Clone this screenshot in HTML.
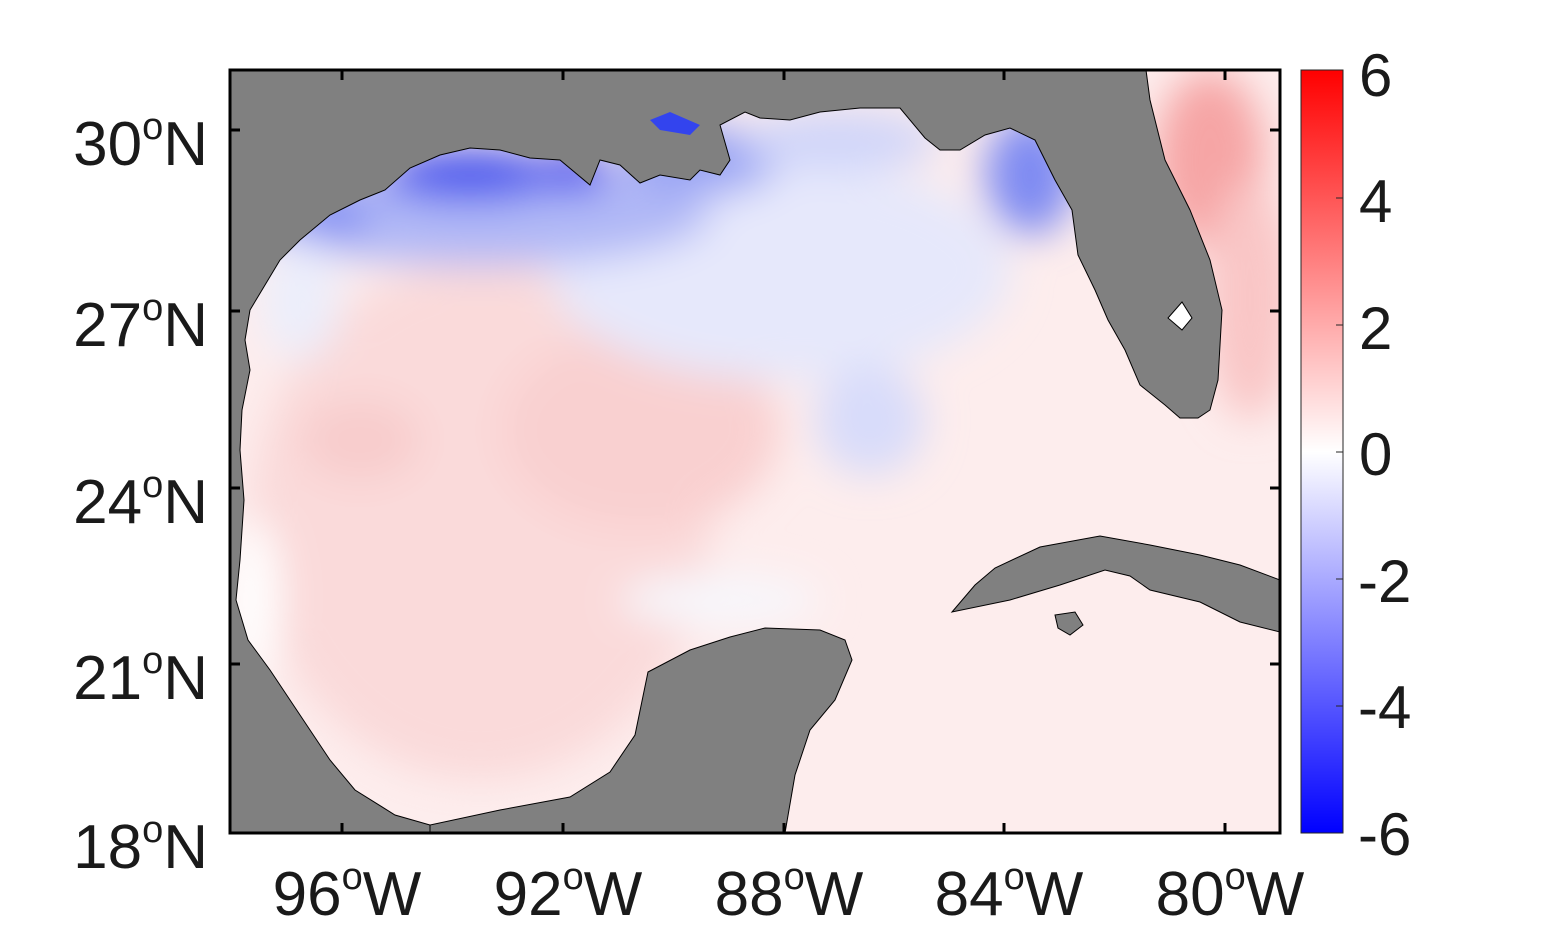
<!DOCTYPE html>
<html><head><style>
body{margin:0;background:#fff;width:1563px;height:938px;overflow:hidden}
svg text{font-family:"Liberation Sans",sans-serif;fill:#1a1a1a}
</style></head><body>
<svg width="1563" height="938" viewBox="0 0 1563 938" xmlns="http://www.w3.org/2000/svg">
<defs>
<linearGradient id="cb" x1="0" y1="1" x2="0" y2="0">
<stop offset="0" stop-color="#0000ff"/><stop offset="0.5" stop-color="#ffffff"/><stop offset="1" stop-color="#ff0000"/>
</linearGradient>
<filter id="bl" x="-50%" y="-50%" width="200%" height="200%"><feGaussianBlur stdDeviation="20"/></filter>
<clipPath id="ax"><rect x="230" y="70" width="1050" height="763"/></clipPath>
</defs>
<g clip-path="url(#ax)">
<rect x="230" y="70" width="1050" height="763" fill="#fdeded"/>
<g filter="url(#bl)">
<ellipse cx="480" cy="520" rx="230" ry="260" fill="#fadada"/>
<ellipse cx="640" cy="430" rx="140" ry="100" fill="#f9d0d0"/>
<ellipse cx="360" cy="440" rx="60" ry="40" fill="#f8cccc"/>
<ellipse cx="780" cy="270" rx="230" ry="110" fill="#e6e8fb"/>
<ellipse cx="870" cy="420" rx="55" ry="55" fill="#d8dcfa"/>
<ellipse cx="480" cy="215" rx="230" ry="50" fill="#b0b8f6"/>
<ellipse cx="470" cy="175" rx="90" ry="25" fill="#3f50ee"/>
<ellipse cx="575" cy="172" rx="35" ry="18" fill="#1020ee"/>
<ellipse cx="330" cy="215" rx="40" ry="18" fill="#7784f2"/>
<ellipse cx="700" cy="160" rx="80" ry="35" fill="#9aa4f4"/>
<ellipse cx="840" cy="140" rx="100" ry="30" fill="#d0d5f9"/>
<ellipse cx="1030" cy="175" rx="45" ry="60" fill="#7f8bf2"/>
<ellipse cx="300" cy="300" rx="40" ry="60" fill="#eceefb"/>
<ellipse cx="1210" cy="160" rx="55" ry="90" fill="#f6a5a5"/>
<ellipse cx="1250" cy="300" rx="45" ry="120" fill="#f9c6c6"/>
<ellipse cx="255" cy="600" rx="25" ry="80" fill="#ffffff"/>
<ellipse cx="720" cy="600" rx="100" ry="25" fill="#f7f7fc"/>
</g>
<g fill="#808080" stroke="#000" stroke-width="1">
<path d="M230,70 L1146,70 L1150,100 L1165,160 L1190,210 L1210,260 L1222,310 L1218,380 L1210,410 L1198,418 L1180,418 L1165,405 L1140,385 L1125,350 L1108,320 L1095,290 L1078,255 L1072,210 L1055,180 L1035,140 L1010,128 L985,135 L960,150 L940,150 L925,138 L900,108 L860,108 L820,112 L790,120 L760,118 L745,112 L720,125 L730,160 L720,175 L700,170 L690,180 L660,175 L640,183 L620,165 L600,160 L590,185 L560,160 L530,158 L500,150 L470,148 L440,155 L410,168 L385,190 L360,200 L330,215 L300,240 L280,260 L265,285 L250,310 L245,340 L250,370 L242,410 L240,450 L244,500 L240,560 L236,600 L248,640 L270,670 L300,715 L330,760 L355,790 L395,815 L430,825 L430,833 L230,833 Z"/>
<path d="M430,833 L430,825 L500,810 L570,797 L610,772 L635,735 L648,672 L690,650 L730,637 L765,628 L820,630 L845,640 L852,660 L835,700 L810,730 L795,775 L785,833 Z"/>
<path d="M952,612 L975,585 L995,568 L1040,547 L1100,536 L1150,545 L1200,555 L1240,565 L1280,580 L1280,632 L1240,622 L1200,602 L1150,590 L1130,576 L1105,570 L1060,585 L1010,600 Z"/>
<path d="M1055,615 L1075,612 L1083,625 L1070,635 L1058,628 Z"/>
<path d="M1168,318 L1182,302 L1192,318 L1182,330 Z" fill="#fff"/>
<path d="M650,120 L670,112 L700,125 L690,135 L660,130 Z" fill="#3344ee" stroke="none"/>
</g>
</g>
<rect x="230" y="70" width="1050" height="763" fill="none" stroke="#000" stroke-width="3"/>
<g stroke="#000" stroke-width="3">
<path d="M230,130h10M230,311h10M230,488h10M230,664h10M1280,130h-10M1280,311h-10M1280,488h-10M1280,664h-10"/>
<path d="M342,833v-10M563,833v-10M784,833v-10M1004,833v-10M1225,833v-10M342,70v10M563,70v10M784,70v10M1004,70v10M1225,70v10"/>
</g>
<rect x="1301" y="70" width="42" height="763" fill="url(#cb)" stroke="#262626" stroke-width="1"/>
<g stroke="#262626" stroke-width="1"><path d="M1336,198h7M1336,325h7M1336,452h7M1336,579h7M1336,706h7"/></g>
<g font-size="60" fill="#262626">
<text x="1359" y="96">6</text><text x="1359" y="222">4</text><text x="1359" y="349">2</text><text x="1359" y="475">0</text>
<text x="1358" y="602">-2</text><text x="1358" y="728">-4</text><text x="1358" y="855">-6</text>
</g>
<g font-size="62" text-anchor="end">
<text x="208" y="165">30<tspan font-size="38" dy="-26">o</tspan><tspan dy="26">N</tspan></text>
<text x="208" y="346">27<tspan font-size="38" dy="-26">o</tspan><tspan dy="26">N</tspan></text>
<text x="208" y="523">24<tspan font-size="38" dy="-26">o</tspan><tspan dy="26">N</tspan></text>
<text x="208" y="699">21<tspan font-size="38" dy="-26">o</tspan><tspan dy="26">N</tspan></text>
<text x="208" y="868">18<tspan font-size="38" dy="-26">o</tspan><tspan dy="26">N</tspan></text>
</g>
<g font-size="62" text-anchor="middle">
<text x="347" y="915">96<tspan font-size="38" dy="-26">o</tspan><tspan dy="26">W</tspan></text>
<text x="568" y="915">92<tspan font-size="38" dy="-26">o</tspan><tspan dy="26">W</tspan></text>
<text x="789" y="915">88<tspan font-size="38" dy="-26">o</tspan><tspan dy="26">W</tspan></text>
<text x="1009" y="915">84<tspan font-size="38" dy="-26">o</tspan><tspan dy="26">W</tspan></text>
<text x="1230" y="915">80<tspan font-size="38" dy="-26">o</tspan><tspan dy="26">W</tspan></text>
</g>
</svg>
</body></html>
